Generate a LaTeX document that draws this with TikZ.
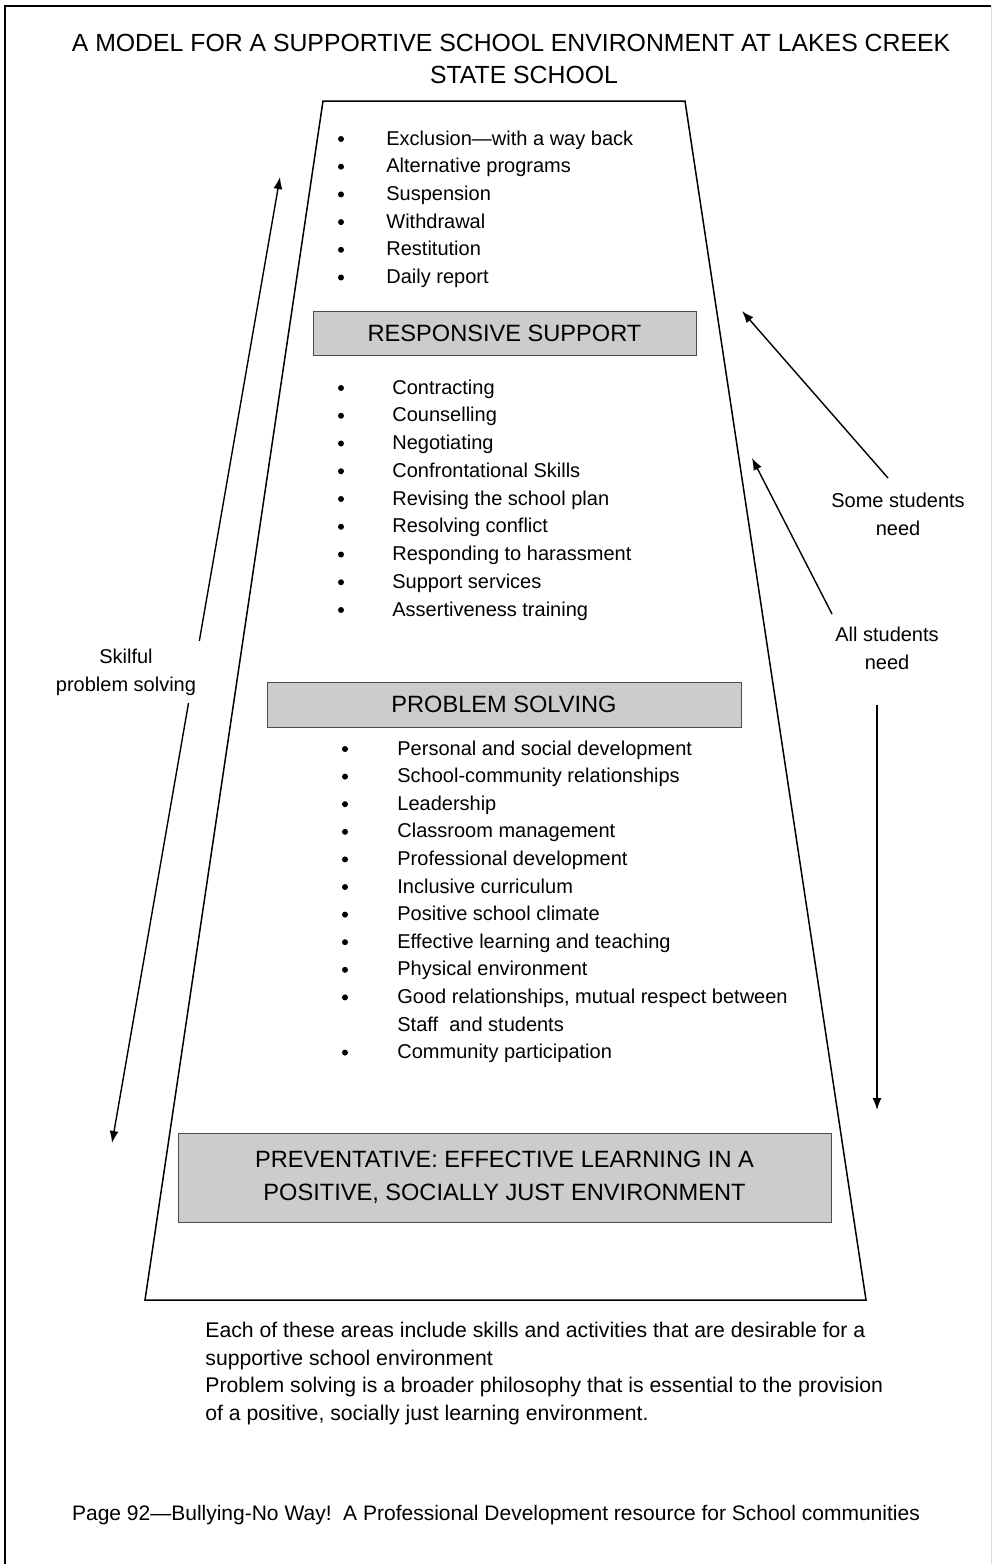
\documentclass[tikz,border=0pt]{standalone}
\usepackage{fontspec}
\setmainfont{Liberation Sans}
\usetikzlibrary{arrows.meta}

\begin{document}
\begin{tikzpicture}[x=0.5pt, y=-0.5pt, >={Latex[length=6pt,width=4.5pt]},
  lvl/.style={draw=black!70, fill=black!20, line width=0.5pt, align=center,
    font=\fontsize{11.8}{16.5}\selectfont},
  item/.style={anchor=base west, inner sep=0pt, font=\fontsize{10}{12}\selectfont},
  note/.style={align=center, inner sep=1pt, font=\fontsize{10}{14}\selectfont},
  c/.style={->, line width=0.7pt}]

  \useasboundingbox (0,0) rectangle (993,1564);

  % page frame, open at the bottom
  \draw[line width=1.2pt] (5,1564) -- (5,6) -- (991,6);
  \draw[black!15, line width=0.5pt] (991,6) -- (991,1564);

  % title
  \node[font=\fontsize{12.4}{16}\selectfont] (title) at (511,43)
    {A MODEL FOR A SUPPORTIVE SCHOOL ENVIRONMENT AT LAKES CREEK};
  \node[font=\fontsize{12.4}{16}\selectfont] (title2) at (524,75) {STATE SCHOOL};

  % the trapezoid
  \draw[line width=0.75pt] (323,101) -- (685,101) -- (866,1300) -- (145,1300) -- cycle;

  % level boxes
  \node[lvl, minimum width=191.5pt, minimum height=22pt] (resp) at (504.5,333)
    {RESPONSIVE SUPPORT};
  \node[lvl, minimum width=237pt, minimum height=22.5pt] (prob) at (504,704.5)
    {PROBLEM SOLVING};
  \node[lvl, minimum width=326.5pt, minimum height=44.5pt] (prev) at (504.5,1177.5)
    {PREVENTATIVE: EFFECTIVE LEARNING IN A\\POSITIVE, SOCIALLY JUST ENVIRONMENT};

  % top list
  \foreach \txt [count=\i] in {Exclusion---with a way back, Alternative programs,
      Suspension, Withdrawal, Restitution, Daily report} {
    \fill (341,{145+27.7*(\i-1)-6}) circle (3);
    \node[item] (top-\i) at (386,{145+27.7*(\i-1)}) {\txt};
  }

  % responsive list
  \foreach \txt [count=\i] in {Contracting, Counselling, Negotiating,
      Confrontational Skills, Revising the school plan, Resolving conflict,
      Responding to harassment, Support services, Assertiveness training} {
    \fill (341,{394+27.75*(\i-1)-6}) circle (3);
    \node[item] (resp-\i) at (392,{394+27.75*(\i-1)}) {\txt};
  }

  % problem solving list
  \foreach \txt [count=\i] in {Personal and social development,
      School-community relationships, Leadership, Classroom management,
      Professional development, Inclusive curriculum, Positive school climate,
      Effective learning and teaching, Physical environment,
      {Good relationships, mutual respect between}, Staff\ \ and students,
      Community participation} {
    \ifnum\i=11\else\fill (345,{755+27.6*(\i-1)-6}) circle (3);\fi
    \node[item] (prob-\i) at (397,{755+27.6*(\i-1)}) {\txt};
  }

  % arrows
  \coordinate (sk-top) at (280,177);
  \coordinate (sk-bot) at (112,1143);
  \draw[c, <->] (sk-bot) -- (sk-top);
  \node[note, fill=white, inner sep=4pt] (skil) at (126,672) {Skilful\\problem solving};

  \coordinate (some-tip) at (742,311);
  \coordinate (some-tail) at (888,478);
  \draw[c] (some-tail) -- (some-tip);
  \node[note] (some) at (898,514) {Some students\\need};

  \coordinate (all-tip) at (752,458);
  \coordinate (all-tail) at (832,614);
  \draw[c] (all-tail) -- (all-tip);
  \node[note] (all) at (887,648) {All students\\need};

  \coordinate (down-top) at (877,705);
  \coordinate (down-bot) at (877,1110);
  \draw[c] (down-top) -- (down-bot);

  % notes under the trapezoid
  \node[anchor=north west, inner sep=0pt, align=left, font=\fontsize{10.6}{13.8}\selectfont]
    (expl) at (205,1322)
    {Each of these areas include skills and activities that are desirable for a\\
     supportive school environment\\
     Problem solving is a broader philosophy that is essential to the provision\\
     of a positive, socially just learning environment.};

  \node[font=\fontsize{10.5}{12}\selectfont] (foot) at (496,1515)
    {Page 92---Bullying-No Way!\ \ A Professional Development resource for School communities};

\end{tikzpicture}
\end{document}
